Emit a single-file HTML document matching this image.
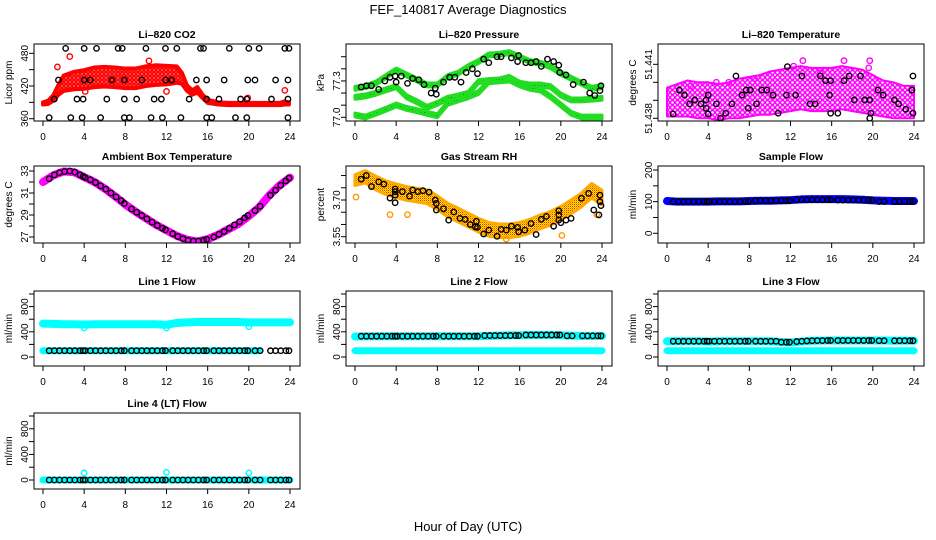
<!DOCTYPE html>
<html>
<head>
<meta charset="utf-8">
<style>
html,body{margin:0;padding:0;background:#fff;}
svg{display:block;font-family:"Liberation Sans",Arial,sans-serif;}
</style>
</head>
<body>
<svg id="chart" width="936" height="540" viewBox="0 0 936 540" xmlns="http://www.w3.org/2000/svg">
<defs>
<pattern id="pRed" width="4" height="4" patternUnits="userSpaceOnUse"><rect width="4" height="4" fill="#ff6666"/><circle cx="2" cy="2" r="1.6" fill="none" stroke="#ff0000" stroke-width="1.3"/></pattern>
<pattern id="pMag" width="5" height="5" patternUnits="userSpaceOnUse"><circle cx="2.5" cy="2.5" r="2" fill="none" stroke="#ff00ff" stroke-width="1.4"/></pattern>
<pattern id="pGreen" width="3" height="3" patternUnits="userSpaceOnUse"><rect width="3" height="3" fill="#22dd22"/><rect x="1" y="1" width="1" height="1" fill="#115511"/></pattern>
<pattern id="pRH" width="2" height="2" patternUnits="userSpaceOnUse"><rect width="2" height="2" fill="#ffee00"/><rect width="1" height="1" fill="#ff2200"/><rect x="1" y="1" width="1" height="1" fill="#ff9900"/></pattern>
</defs>
<text x="468" y="14" font-size="13" text-anchor="middle">FEF_140817  Average Diagnostics</text>
<text x="468" y="531" font-size="13" text-anchor="middle">Hour of Day (UTC)</text>
</svg>
<script>
// ---------- data ----------
const xTicks = [0,4,8,12,16,20,24];
const hrs = [0,1,2,3,4,5,6,7,8,9,10,11,12,13,14,15,16,17,18,19,20,21,22,23,24];
const flowHours = [0.6,1.1,1.6,2.1,2.6,3.1,3.6,3.9,4.1,4.6,5.1,5.6,6.1,6.6,7.1,7.6,7.9,8.6,9.1,9.6,10.1,10.6,11.1,11.6,11.9,12.6,13.1,13.6,14.1,14.6,15.1,15.6,15.9,16.6,17.1,17.6,18.1,18.6,19.1,19.6,19.9,20.6,21.1,22.1,22.6,23.1,23.6,23.9];

// CO2
const co2Hours = [0,0.5,1,1.5,2,3,4,5,6,7,8,9,10,11,12,13,13.5,14,14.5,15,15.5,16,17,18,19,20,21,22,23,23.5,23.9];
const co2Center = [388,390,398,413,425,430,432,436,437,436,434,434,438,440,440,441,434,416,408,413,401,392,388,387,387,387,387,387,387,389,388];
const co2Spread = [2,3,5,9,14,16,17,18,18,18,18,18,18,18,17,15,10,5,4,5,3,3,2,2,2,2,2,2,2,3,2];
const co2OutX = [2.6,4.1,12,19.9,23.5,1.4,10.3];
const co2OutY = [474,410,410,398,412,455,466];
const co2BlackX = [2.2,4,5.2,7.3,7.7,10,11.9,13,15.3,15.6,18.1,20,21,23.5,23.9, 1.5,4,4.6,6.7,7.9,9.6,11.9,12.5,14.9,15.9,17.6,19.9,20.6,22.6,23.8, 1.1,3.3,3.9,6.2,7.9,9.1,10.8,11.5,14.2,15.9,17.1,19.2,19.8,22.2,23.8, 0.6,2.7,3.8,5.6,7.9,8.4,10.5,11.6,13.4,15.9,16.4,18.7,19.8,23.8];
const co2BlackY = [489,489,489,489,489,489,489,489,489,489,489,489,489,489,489, 431,431,431,431,431,431,431,431,431,431,431,431,431,431,431, 396,396,396,396,396,396,396,396,396,396,396,396,396,396,396, 362,362,362,362,362,362,362,362,362,362,362,362,362,362];

// Pressure
const presA = [77.239,77.253,77.281,77.336,77.391,77.350,77.308,77.267,77.267,77.336,77.363,77.418,77.460,77.515,77.520,77.534,77.496,77.460,77.446,77.418,77.363,77.322,77.281,77.239,77.253];
const presB = [77.165,77.176,77.198,77.226,77.253,77.170,77.129,77.082,77.115,77.157,77.176,77.198,77.294,77.303,77.308,77.330,77.281,77.267,77.267,77.253,77.184,77.143,77.143,77.149,77.157];
const presC = [77.019,77.002,77.033,77.066,77.102,77.074,77.055,77.033,77.013,77.115,77.143,77.170,77.204,77.294,77.300,77.308,77.267,77.239,77.226,77.170,77.102,77.033,77.002,77.002,77.002];
const presBlackX = [0.6,1.1,1.6,2.3,2.9,3.4,3.9,4,4.5,5.1,5.6,6.2,6.7,7.4,7.8,7.9,8.6,9.2,9.7,10.3,10.8,11.4,11.9,12.5,13,13.8,14.2,15.2,15.8,15.9,16.6,17.1,17.6,18.1,18.7,19.3,19.8,19.9,20.5,21.2,22.2,22.8,23.3,23.8,23.9];
const presBlackY = [77.25,77.26,77.26,77.23,77.30,77.33,77.34,77.29,77.34,77.28,77.32,77.31,77.27,77.20,77.24,77.19,77.29,77.33,77.33,77.29,77.37,77.40,77.36,77.48,77.45,77.50,77.50,77.49,77.46,77.51,77.45,77.45,77.46,77.42,77.48,77.46,77.43,77.37,77.35,77.27,77.29,77.20,77.18,77.22,77.26];

// Li-820 temperature
const tempCenter = [51.4389,51.4390,51.4391,51.4390,51.4390,51.4389,51.4390,51.4391,51.4392,51.4393,51.4394,51.4395,51.4396,51.4397,51.4396,51.4396,51.4396,51.4397,51.4396,51.4395,51.4393,51.4391,51.4390,51.4389,51.4389];
const tempSpread = [0.0008,0.0009,0.0010,0.0010,0.0010,0.0010,0.0010,0.0011,0.0011,0.0011,0.0012,0.0012,0.0012,0.0012,0.0012,0.0012,0.0012,0.0012,0.0012,0.0012,0.0011,0.0010,0.0010,0.0009,0.0009];
const tempOutX = [12.3,13.2,17.2,19.7,19.6,14.9,4.8,2.3,6.0,8.5];
const tempOutY = [51.4409,51.4412,51.4412,51.4412,51.4408,51.4405,51.4400,51.4398,51.4400,51.4402];
const tempBlackX = [0.6,1.2,1.7,2.2,2.7,3.3,3.8,3.8,4,4,4.8,5.2,5.7,6.3,6.7,7.3,7.7,7.9,8.1,8.7,9.2,9.7,10.3,10.8,11.6,11.7,12.5,13.1,13.9,14.4,14.9,15.4,15.9,15.8,15.9,16.6,17.2,17.7,18.2,18.8,19.2,19.7,19.8,19.7,20.5,21,22.1,22.5,23.2,23.8,23.9,23.9];
const tempBlackY = [51.43824,51.43957,51.43929,51.43880,51.43902,51.43880,51.43902,51.43856,51.43929,51.43824,51.43880,51.43800,51.43828,51.43880,51.44035,51.43929,51.43957,51.43856,51.43957,51.43880,51.43957,51.43957,51.43929,51.43828,51.43929,51.44087,51.43929,51.44035,51.43880,51.43880,51.44035,51.44009,51.44009,51.43929,51.43828,51.43828,51.44009,51.44035,51.43902,51.44035,51.43902,51.43902,51.43828,51.43800,51.43957,51.43929,51.43902,51.43880,51.43850,51.43957,51.43828,51.44035];

// Ambient box temperature
const ambMagenta = [32.0,32.6,32.95,32.9,32.45,32.0,31.4,30.7,29.95,29.3,28.7,28.1,27.6,27.1,26.75,26.6,26.8,27.2,27.7,28.2,28.9,29.7,30.8,31.7,32.4];
const ambBlack = [32.3,32.65,32.85,32.95,33.0,32.9,32.65,32.5,32.4,32.2,31.95,31.65,31.35,31.0,30.65,30.3,30.05,29.55,29.25,28.95,28.65,28.35,28.05,27.8,27.65,27.3,27.05,26.85,26.7,26.62,26.62,26.7,26.78,27.0,27.25,27.5,27.8,28.1,28.4,28.75,28.95,29.4,29.8,30.8,31.25,31.7,32.1,32.35];

// Gas stream RH
const rhCenter = [3.781,3.795,3.770,3.750,3.738,3.727,3.720,3.713,3.689,3.659,3.639,3.618,3.597,3.580,3.574,3.574,3.580,3.593,3.611,3.625,3.646,3.672,3.700,3.738,3.710];
const rhSpread = [0.022,0.025,0.028,0.028,0.028,0.028,0.028,0.028,0.028,0.028,0.028,0.028,0.028,0.028,0.028,0.028,0.028,0.028,0.028,0.028,0.028,0.028,0.028,0.03,0.03];
const rhOutX = [0.1,3.4,5.1,14.7,20.1,23.5];
const rhOutY = [3.712,3.640,3.640,3.540,3.555,3.640];
const rhBlackX = [0.6,1.1,1.6,2.3,2.8,3.4,3.9,3.9,3.9,3.9,4.6,5.3,5.6,6.1,6.6,7.2,7.8,7.9,7.9,8.6,9.1,9.6,10.2,10.7,11.2,11.7,11.8,11.9,12.5,13,13.8,14.2,14.7,15.2,15.8,15.9,16.5,17.1,17.6,18.1,18.6,19.3,19.8,19.8,19.8,20,20.5,21,22,22.7,23.2,23.8,23.8,23.9,23.7];
const rhBlackY = [3.785,3.800,3.755,3.774,3.765,3.708,3.745,3.734,3.720,3.689,3.734,3.716,3.741,3.734,3.738,3.732,3.700,3.686,3.659,3.664,3.618,3.651,3.625,3.621,3.600,3.590,3.613,3.588,3.561,3.577,3.552,3.580,3.577,3.593,3.588,3.570,3.577,3.604,3.559,3.621,3.633,3.593,3.656,3.639,3.618,3.607,3.618,3.625,3.707,3.727,3.659,3.720,3.693,3.677,3.639];

// Sample flow
const sampleBlue = [102,100,100,100,100,101,101,101,102,103,103,104,105,107,108,108,108,108,107,106,104,103,102,102,102];
const sampleBlack = [100,100,100,100,100,100,100,100,100,100,100,100,100,100,100,100,100,103,103,103,103,103,103,103,103,106,106,106,106,106,106,106,106,105,105,105,105,105,105,105,105,100,100,100,100,100,100,100];

// Line flows
const line1Hi = [530,525,520,520,515,520,520,520,520,520,520,520,510,540,550,555,555,555,555,555,550,550,550,550,550];
const line1Lo = [100,100,100,100,100,100,100,100,100,100,100,100,100,100,100,100,100,100,100,100,100,100];
const line1DipX = [4,12,20];
const line1DipY = [460,460,480];
const line1Black = [100,100,100,100,100,100,100,100,100,100,100,100,100,100,100,100,100,100,100,100,100,100,100,100,100,100,100,100,100,100,100,100,100,100,100,100,100,100,100,100,100,100,100,100,100,100,100,100];
const line2Hi = [325,328,330,330,330,330,330,330,330,330,330,330,330,335,340,345,345,350,350,350,345,340,335,335,335];
const line2Lo = [100,100,100,100,100,100,100,100,100,100,100,100,100,100,100,100,100,100,100,100,100,100,100,100,100];
const line2Black = [330,330,330,330,330,330,330,330,330,330,330,330,330,330,330,330,330,330,330,330,330,330,330,330,330,340,340,340,340,340,340,340,340,350,350,350,350,350,350,350,350,335,335,335,335,335,335,335];
const line3Hi = [250,250,250,250,245,250,250,250,250,250,250,240,230,245,255,260,262,262,262,262,262,262,258,258,258];
const line3Lo = [100,100,100,100,100,100,100,100,100,100,100,100,100,100,100,100,100,100,100,100,100,100,100,100,100];
const line3Black = [250,250,250,250,250,250,250,250,250,250,250,250,250,250,250,250,250,250,250,250,250,250,235,235,235,245,250,255,258,260,260,262,262,262,262,262,262,262,262,262,262,258,258,258,258,258,258,258];
const line4Cyan = [0,0,0,0,0,0,0,0,0,0,0,0,0,0,0,0,0,0,0,0,0,0,0,0,0];
const line4OutX = [4,12,20];
const line4OutY = [110,120,110];
const line4Black = [0,0,0,0,0,0,0,0,0,0,0,0,0,0,0,0,0,0,0,0,0,0,0,0,0,0,0,0,0,0,0,0,0,0,0,0,0,0,0,0,0,0,0,0,0,0,0,0];

// y-axis ticks / labels
const co2Ticks = [360,390,420,450,480];  const co2Labels = [360,420,480];
const presTicks = [77.0,77.1,77.2,77.3,77.4,77.5]; const presLabels = ["77.0","77.3"];
const tempTicks = [51.438,51.439,51.440,51.441]; const tempLabels = ["51.438","51.441"];
const ambTicks = [27,28,29,30,31,32,33]; const ambLabels = [27,29,31,33];
const rhTicks = [3.55,3.60,3.65,3.70,3.75,3.80]; const rhLabels = ["3.55","3.70"];
const sampTicks = [0,50,100,150,200]; const sampLabels = [0,100,200];
const flowTicks = [0,200,400,600,800,1000]; const flowLabels = [0,400,800];

// ---------- layout ----------
const svg = document.getElementById('chart');
const NS = 'http://www.w3.org/2000/svg';
const ROWS = [[44,121],[166,243],[291,366],[413,489]];
const COLW = 312;
function mk(tag, attrs, parent){
  const e = document.createElementNS(NS, tag);
  for (const k in attrs) e.setAttribute(k, attrs[k]);
  (parent||svg).appendChild(e);
  return e;
}
function sx(col,h){ return 43 + col*COLW + h/24*(290-43); }
function makeY(map){ const [v1,p1,v2,p2]=map; return v => p1 + (v-v1)*(p2-p1)/(v2-v1); }

function panel(cfg){
  const g = mk('g',{});
  
  
  const left = 34 + cfg.col*COLW, right = 300 + cfg.col*COLW;
  const [top,bot] = ROWS[cfg.row];
  const sy = makeY(cfg.map);
  const clipId = 'clip-'+cfg.name;
  const cp = mk('clipPath',{id:clipId}, g);
  mk('rect',{x:left,y:top,width:right-left,height:bot-top}, cp);
  const plot = mk('g',{'clip-path':'url(#'+clipId+')'}, g);
  
  
  const t = mk('text',{x:(left+right)/2,y:top-6,'font-size':'10.5','font-weight':'bold','text-anchor':'middle'}, g);
  t.textContent = cfg.title;
  
  
  const ycy = (top+bot)/2, ytx = left-22;
  const yt = mk('text',{x:ytx,y:ycy,'font-size':'10','text-anchor':'middle',transform:'rotate(-90 '+ytx+' '+ycy+')'}, g);
  yt.textContent = cfg.ylab;
  
  
  cfg.yTicks.forEach(v=>{
    const y = sy(v);
    const tk = mk('line',{x1:left-5,x2:left,y1:y,y2:y,stroke:'#000','stroke-width':1}, g);
    
    
  });
  cfg.yLabels.forEach(v=>{
    const y = sy(Number(v)), x = left-6;
    const tl = mk('text',{x:x,y:y,'font-size':'10','text-anchor':'middle',transform:'rotate(-90 '+x+' '+y+')'}, g);
    tl.textContent = String(v);
    
    
  });
  xTicks.forEach(h=>{
    const x = sx(cfg.col,h);
    const tk = mk('line',{x1:x,x2:x,y1:bot,y2:bot+5,stroke:'#000','stroke-width':1}, g);
    
    
    const tl = mk('text',{x:x,y:bot+19,'font-size':'10','text-anchor':'middle'}, g);
    tl.textContent = String(h);
    
    
  });
  const box = mk('rect',{x:left,y:top,width:right-left,height:bot-top,fill:'none',stroke:'#000','stroke-width':1}, g);
  
  
  return {plot, sy, col:cfg.col};
}

function band(P, hours, center, spread, fill, stroke, name, sw){
  const up = hours.map((h,i)=> sx(P.col,h)+','+P.sy(center[i]+spread[i]));
  const lo = hours.map((h,i)=> sx(P.col,h)+','+P.sy(center[i]-spread[i])).reverse();
  const e = mk('polygon',{points:up.concat(lo).join(' '),fill:fill,stroke:stroke,'stroke-width':sw||3,'stroke-linejoin':'round'}, P.plot);
  
  
}
function thick(P, hours, vals, color, w, name){
  const pts = hours.map((h,i)=> sx(P.col,h)+','+P.sy(vals[i])).join(' ');
  const e = mk('polyline',{points:pts,fill:'none',stroke:color,'stroke-width':w,'stroke-linecap':'round','stroke-linejoin':'round'}, P.plot);
  
  
}
function pts(P, xs, ys, color, name, r){
  xs.forEach((h,i)=>{
    const c = mk('circle',{cx:sx(P.col,h),cy:P.sy(ys[i]),r:r||2.7,fill:'none',stroke:color,'stroke-width':1.4}, P.plot);
    
    
  });
}
function uniformBand(n,v){ const a=[]; for(let i=0;i<n;i++) a.push(v); return a; }

// 1 CO2
let P = panel({name:'co2-panel',col:0,row:0,title:'Li\u2013820 CO2',ylab:'Licor ppm',map:[360,118.7,480,53.3],yTicks:co2Ticks,yLabels:co2Labels});
band(P, co2Hours, co2Center, co2Spread, 'url(#pRed)', '#ff0000', 'co2-red-series', 4);
pts(P, co2OutX, co2OutY, '#ff0000', 'co2-red-point');
pts(P, co2BlackX, co2BlackY, '#000', 'co2-black-point');

// 2 Pressure
P = panel({name:'pressure-panel',col:1,row:0,title:'Li\u2013820 Pressure',ylab:'kPa',map:[77.0,117.3,77.5,56.7],yTicks:presTicks,yLabels:presLabels});
const pSp = uniformBand(25,0.016);
band(P, hrs, presC, pSp, 'url(#pGreen)', '#22dd22', 'pressure-green-band-low');
band(P, hrs, presB, pSp, 'url(#pGreen)', '#22dd22', 'pressure-green-band-mid');
band(P, hrs, presA, pSp, 'url(#pGreen)', '#22dd22', 'pressure-green-band-high');
pts(P, presBlackX, presBlackY, '#000', 'pressure-black-point');

// 3 Temperature
P = panel({name:'temperature-panel',col:2,row:0,title:'Li\u2013820 Temperature',ylab:'degrees C',map:[51.438,118.3,51.441,64.3],yTicks:tempTicks,yLabels:tempLabels});
band(P, hrs, tempCenter, tempSpread, 'url(#pMag)', '#ff00ff', 'temperature-magenta-series', 2);
pts(P, tempOutX, tempOutY, '#ff00ff', 'temperature-magenta-point');
pts(P, tempBlackX, tempBlackY, '#000', 'temperature-black-point');

// 4 Ambient
P = panel({name:'ambient-panel',col:0,row:1,title:'Ambient Box Temperature',ylab:'degrees C',map:[33,171,27,237],yTicks:ambTicks,yLabels:ambLabels});
thick(P, hrs, ambMagenta, '#ff00ff', 8, 'ambient-magenta-series');
pts(P, flowHours, ambBlack, '#000', 'ambient-black-point');

// 5 RH
P = panel({name:'rh-panel',col:1,row:1,title:'Gas Stream RH',ylab:'percent',map:[3.70,200,3.55,236.7],yTicks:rhTicks,yLabels:rhLabels});
band(P, hrs, rhCenter, rhSpread, 'url(#pRH)', '#ffaa00', 'rh-orange-series');
pts(P, rhOutX, rhOutY, '#ff9900', 'rh-orange-point');
pts(P, rhBlackX, rhBlackY, '#000', 'rh-black-point');

// 6 Sample flow
P = panel({name:'sample-flow-panel',col:2,row:1,title:'Sample Flow',ylab:'ml/min',map:[0,233.3,200,170],yTicks:sampTicks,yLabels:sampLabels});
thick(P, hrs, sampleBlue, '#0000ff', 8, 'sample-flow-blue-series');
pts(P, flowHours, sampleBlack, '#000', 'sample-flow-black-point');

// 7 Line 1
P = panel({name:'line1-flow-panel',col:0,row:2,title:'Line 1 Flow',ylab:'ml/min',map:[0,357,1000,294],yTicks:flowTicks,yLabels:flowLabels});
thick(P, hrs, line1Hi, '#00ffff', 8, 'line1-cyan-high');
thick(P, hrs.slice(0,line1Lo.length), line1Lo, '#00ffff', 7, 'line1-cyan-low');
pts(P, line1DipX, line1DipY, '#00ffff', 'line1-cyan-point');
pts(P, flowHours, line1Black, '#000', 'line1-black-point');

// 8 Line 2
P = panel({name:'line2-flow-panel',col:1,row:2,title:'Line 2 Flow',ylab:'ml/min',map:[0,357,1000,294],yTicks:flowTicks,yLabels:flowLabels});
thick(P, hrs, line2Hi, '#00ffff', 8, 'line2-cyan-high');
thick(P, hrs, line2Lo, '#00ffff', 7, 'line2-cyan-low');
pts(P, flowHours, line2Black, '#000', 'line2-black-point');

// 9 Line 3
P = panel({name:'line3-flow-panel',col:2,row:2,title:'Line 3 Flow',ylab:'ml/min',map:[0,357,1000,294],yTicks:flowTicks,yLabels:flowLabels});
thick(P, hrs, line3Hi, '#00ffff', 8, 'line3-cyan-high');
thick(P, hrs, line3Lo, '#00ffff', 7, 'line3-cyan-low');
pts(P, flowHours, line3Black, '#000', 'line3-black-point');

// 10 Line 4
P = panel({name:'line4-flow-panel',col:0,row:3,title:'Line 4 (LT) Flow',ylab:'ml/min',map:[0,480,1000,416],yTicks:flowTicks,yLabels:flowLabels});
thick(P, hrs, line4Cyan, '#00ffff', 7, 'line4-cyan-series');
pts(P, line4OutX, line4OutY, '#00ffff', 'line4-cyan-point');
pts(P, flowHours, line4Black, '#000', 'line4-black-point');
</script>
</body>
</html>
